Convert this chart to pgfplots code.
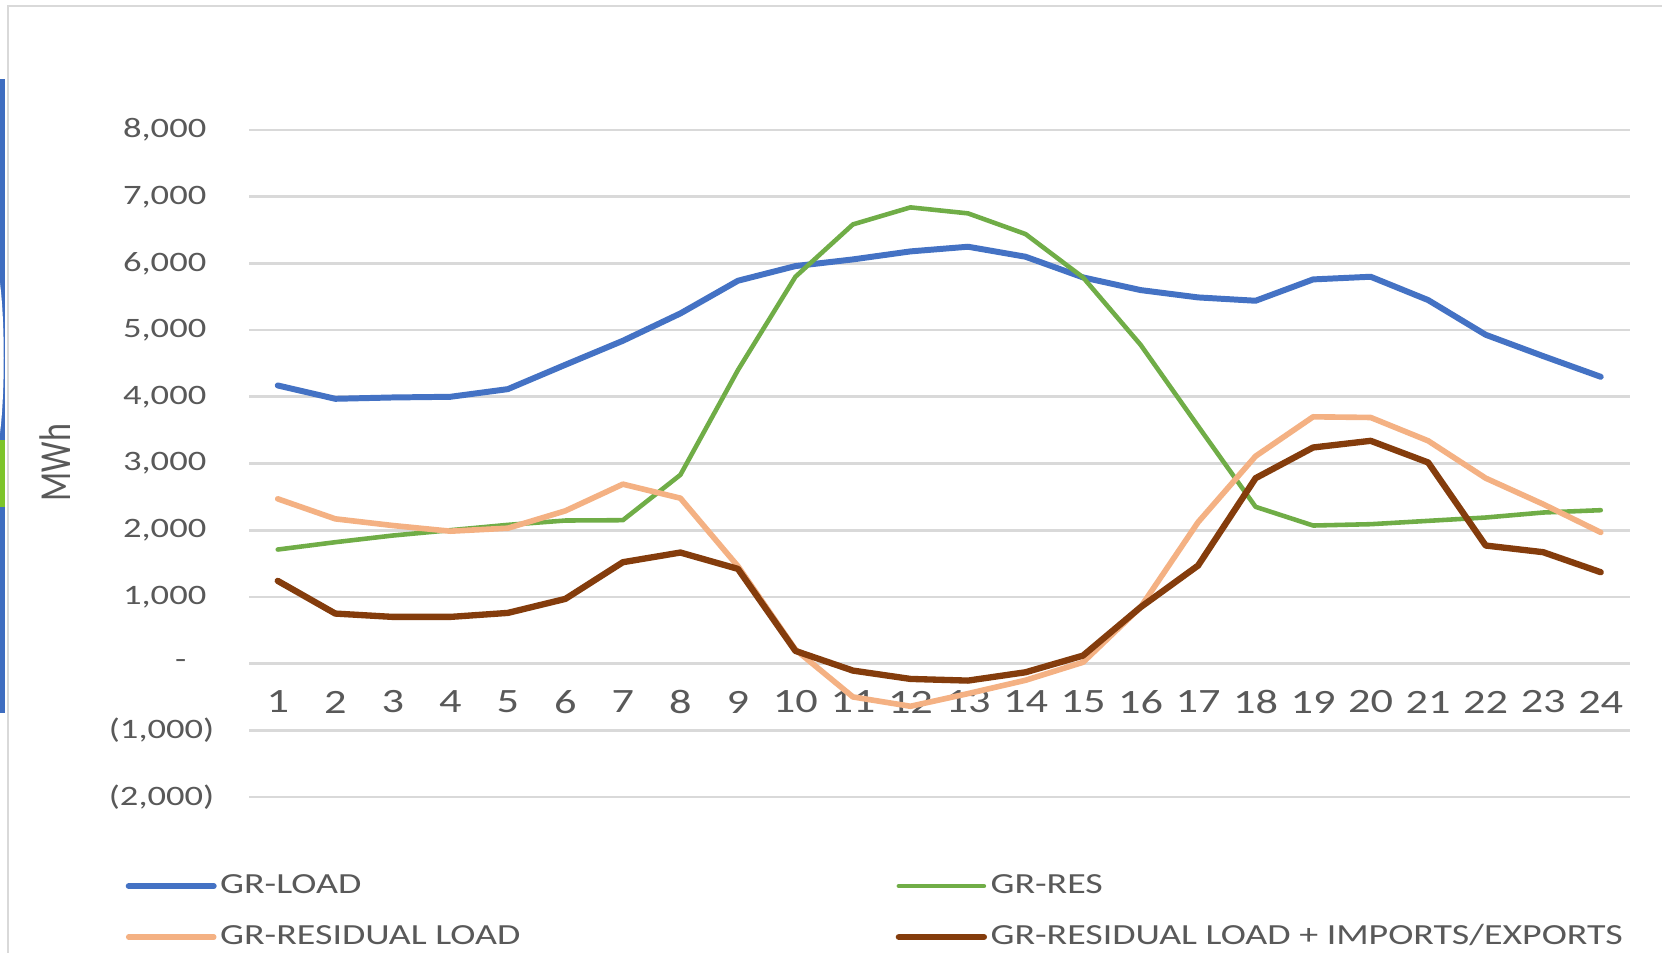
\documentclass[border=0pt]{standalone}
\usepackage{pgfplots}
\pgfplotsset{compat=1.18}
\usepackage{graphicx}
\usepackage{fontspec}
\setmainfont{Carlito}

\definecolor{cload}{HTML}{4472C4}
\definecolor{cres}{HTML}{70AD47}
\definecolor{cresid}{HTML}{F4B183}
\definecolor{cimp}{HTML}{843C0C}
\definecolor{gridgray}{HTML}{D9D9D9}
\definecolor{labgray}{HTML}{595959}
\definecolor{edgeblue}{HTML}{3E6DC0}
\definecolor{edgegreen}{HTML}{7DC42A}

% text in the source is stretched sideways
\newcommand{\sx}[1]{\scalebox{1.3}[1]{#1}}

\pgfplotstableread{
hour load res resid imp
1  4170 1710 2470 1240
2  3970 1820 2170 750
3  3990 1920 2070 700
4  4000 2000 1985 700
5  4115 2080 2030 760
6  4480 2145 2290 970
7  4840 2150 2690 1520
8  5250 2830 2480 1665
9  5740 4400 1460 1420
10 5960 5800 210 190
11 6060 6585 -500 -105
12 6180 6840 -640 -230
13 6250 6750 -450 -255
14 6100 6440 -250 -130
15 5790 5790 20 120
16 5600 4780 845 845
17 5490 3560 2120 1470
18 5440 2350 3110 2780
19 5760 2070 3700 3240
20 5800 2090 3690 3340
21 5450 2140 3340 3015
22 4930 2190 2780 1770
23 4610 2265 2390 1670
24 4300 2300 1967 1370
}\grdata

\begin{document}
\begin{tikzpicture}
\useasboundingbox (0,0) rectangle (16.62,9.53);
\fill[white] (0,0) rectangle (16.62,9.53);
\fill[edgeblue] (0,2.4) rectangle (0.055,8.74);
\fill[white] (0,5.2) .. controls (0.05,5.6) and (0.05,6.3) .. (0,6.7) -- cycle;
\fill[edgegreen] (0,4.46) rectangle (0.055,5.13);
\draw[gridgray, line width=0.8pt] (0.08,-0.5) -- (0.08,9.47) -- (17,9.47);
\begin{axis}[
  at={(2.49cm,1.56cm)}, anchor=south west,
  width=13.805cm, height=6.67cm, scale only axis,
  xmin=0.5, xmax=24.5, ymin=-2000, ymax=8000,
  axis line style={draw=none},
  major tick length=0pt,
  xtick={1,2,...,24},
  xticklabels={\sx{1},\sx{2},\sx{3},\sx{4},\sx{5},\sx{6},\sx{7},\sx{8},\sx{9},\sx{10},\sx{11},\sx{12},
    \sx{13},\sx{14},\sx{15},\sx{16},\sx{17},\sx{18},\sx{19},\sx{20},\sx{21},\sx{22},\sx{23},\sx{24}},
  ytick={-2000,-1000,0,1000,2000,3000,4000,5000,6000,7000,8000},
  yticklabels={{\sx{(2,000)}\kern-0.08cm},{\sx{(1,000)}\kern-0.08cm},{\sx{-}\kern0.2cm},
    {\sx{1,000}},{\sx{2,000}},{\sx{3,000}},{\sx{4,000}},{\sx{5,000}},{\sx{6,000}},{\sx{7,000}},{\sx{8,000}}},
  ymajorgrids,
  grid style={color=gridgray, line width=0.75pt},
  xticklabel style={font=\fontsize{9.7}{11}\selectfont, text=labgray, anchor=center, inner sep=0pt, yshift=0.95cm},
  yticklabel style={font=\fontsize{8}{9.6}\selectfont, text=labgray, anchor=east, inner sep=0pt, xshift=-0.42cm},
  ylabel={\scalebox{1}[1.3]{MWh}},
  every axis y label/.style={at={(axis description cs:-0.1402,0.5015)}, rotate=90, anchor=center,
    font=\fontsize{9.7}{11}\selectfont, text=labgray},
  legend columns=2,
  legend cell align=left,
  legend image code/.code={\draw[#1] (0cm,0cm) -- (0.85cm,0cm);},
  legend style={at={(axis description cs:-0.0898,-0.1075)}, anchor=north west, draw=none, fill=none,
    inner sep=0pt, font=\fontsize{8.3}{10}\selectfont, text=labgray,
    nodes={inner sep=1pt, text height=6pt, text depth=1.5pt}, row sep=5pt},
  every axis plot/.append style={no markers, line join=round, line cap=round},
]
\addplot[cload, line width=1.7pt] table[x=hour, y=load] {\grdata};
\addlegendentry{\makebox[6.72cm][l]{\sx{GR-LOAD}}}
\addplot[cres, line width=1.3pt] table[x=hour, y=res] {\grdata};
\addlegendentry{\sx{GR-RES}}
\addplot[cresid, line width=1.6pt] table[x=hour, y=resid] {\grdata};
\addlegendentry{\makebox[6.72cm][l]{\sx{GR-RESIDUAL LOAD}}}
\addplot[cimp, line width=1.8pt] table[x=hour, y=imp] {\grdata};
\addlegendentry{\sx{GR-RESIDUAL LOAD + IMPORTS/EXPORTS}}
\end{axis}
\end{tikzpicture}
\end{document}
